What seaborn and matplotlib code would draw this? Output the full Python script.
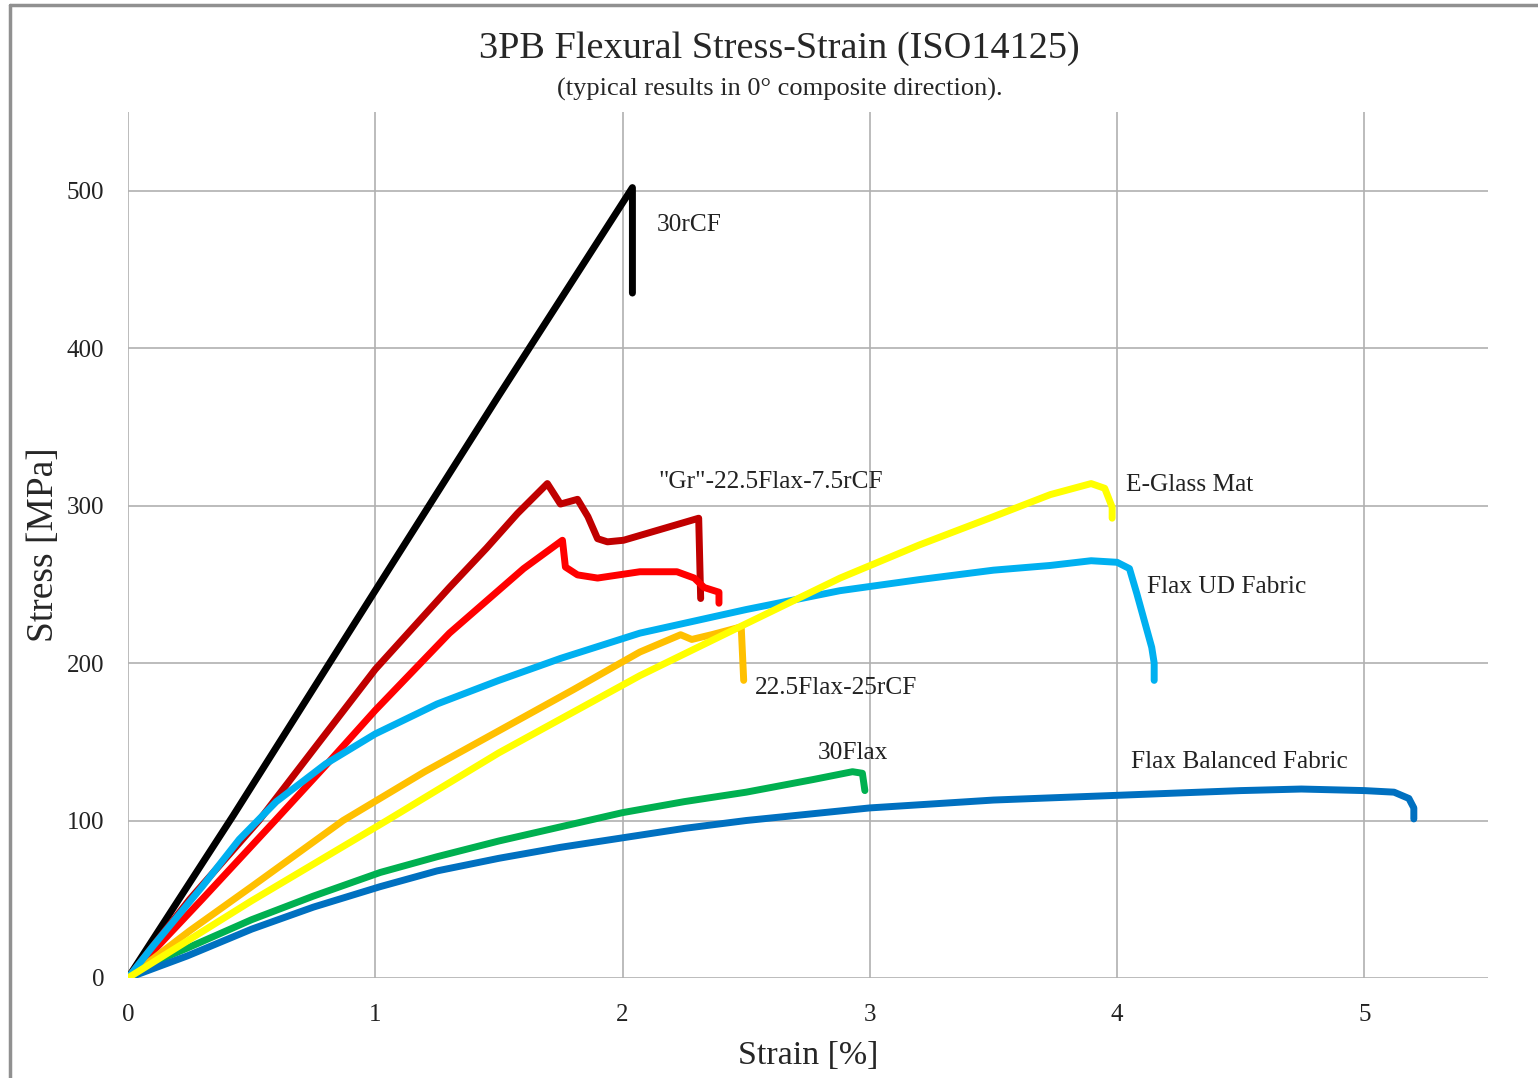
import matplotlib
matplotlib.use("Agg")
import matplotlib.pyplot as plt
from matplotlib.lines import Line2D
import seaborn as sns

# strain [%] / stress [MPa]
cf30_x = [0, 0.425, 1.0, 1.5, 2.04, 2.04]
cf30_y = [0, 103, 246, 370, 502, 435]

gr_x = [0, 0.25, 0.53, 0.75, 1.0, 1.3, 1.45, 1.575, 1.696, 1.749, 1.818, 1.86, 1.899, 1.939, 2.004, 2.308, 2.316]
gr_y = [0, 50, 100, 145, 196, 248, 273, 295, 314, 301, 304, 293, 279, 277, 278, 292, 241]

red_x = [0, 0.3, 0.595, 0.8, 1.0, 1.3, 1.6, 1.757, 1.769, 1.818, 1.899, 2.07, 2.22, 2.29, 2.33, 2.39, 2.39]
red_y = [0, 50, 100, 135, 170, 219, 260, 278, 261, 256, 254, 258, 258, 254, 248, 245, 238]

flax25_x = [0, 0.25, 0.5, 0.87, 1.2, 1.5, 1.8, 2.07, 2.235, 2.28, 2.36, 2.48, 2.49]
flax25_y = [0, 30, 58, 100, 131, 157, 183, 207, 218, 215, 218, 223, 189]

glass_x = [0, 0.5, 1.047, 1.5, 2.07, 2.5, 2.88, 3.2, 3.5, 3.73, 3.895, 3.95, 3.98, 3.98]
glass_y = [0, 49, 100, 143, 192, 225, 254, 275, 293, 307, 314, 311, 299, 292]

ud_x = [0, 0.1, 0.3, 0.45, 0.6, 0.8, 1.0, 1.25, 1.5, 1.75, 2.07, 2.5, 2.88, 3.2, 3.5, 3.73, 3.895, 4.0, 4.05, 4.08, 4.11, 4.14, 4.15, 4.15]
ud_y = [0, 20, 58, 88, 112, 136, 155, 174, 189, 203, 219, 234, 246, 253, 259, 262, 265, 264, 260, 244, 227, 210, 200, 189]

flax30_x = [0, 0.12, 0.24, 0.5, 0.75, 1.02, 1.25, 1.5, 1.75, 2.0, 2.25, 2.5, 2.77, 2.93, 2.97, 2.98]
flax30_y = [0, 11, 19, 37, 52, 67, 77, 87, 96, 105, 112, 118, 126, 131, 130, 119]

bal_x = [0, 0.24, 0.5, 0.75, 1.02, 1.25, 1.5, 1.75, 2.0, 2.25, 2.5, 3.0, 3.5, 4.0, 4.5, 4.745, 5.0, 5.12, 5.18, 5.2, 5.2]
bal_y = [0, 14, 31, 45, 58, 68, 76, 83, 89, 95, 100, 108, 113, 116, 119, 120, 119, 118, 114, 108, 101]

colors = ["#000000", "#C00000", "#FF0000", "#FFC000", "#00B050", "#0070C0", "#00B0F0", "#FFFF00"]
curves = [(cf30_x, cf30_y), (gr_x, gr_y), (red_x, red_y), (flax25_x, flax25_y),
          (flax30_x, flax30_y), (bal_x, bal_y), (ud_x, ud_y), (glass_x, glass_y)]

# label text and where it sits (data coords)
labels = [("30rCF", 2.14, 478), ('"Gr"-22.5Flax-7.5rCF', 2.146, 315),
          ("E-Glass Mat", 4.036, 313), ("Flax UD Fabric", 4.12, 248),
          ("22.5Flax-25rCF", 2.534, 184), ("30Flax", 2.79, 143),
          ("Flax Balanced Fabric", 4.057, 137)]

sns.set_theme(style="white")
plt.rcParams['font.family'] = ['Liberation Serif', 'DejaVu Serif']

fig = plt.figure(figsize=(15.38, 10.78), dpi=100)
ax = fig.add_axes([0.0832, 0.0928, 0.8843, 0.8033])

for (cx, cy), col in zip(curves, colors):
    sns.lineplot(x=cx, y=cy, ax=ax, color=col, sort=False, estimator=None,
                 linewidth=5, solid_capstyle='round', solid_joinstyle='round')

for txt, lx, ly in labels:
    ax.text(lx, ly, txt, fontsize=18.3, va='center', ha='left', color='#222222')

ax.set_xlim(0, 5.5)
ax.set_ylim(0, 550)
ax.set_xticks([0, 1, 2, 3, 4, 5])
ax.set_yticks([0, 100, 200, 300, 400, 500])
ax.grid(True, color='#b0b0b0', linewidth=1.2)
ax.set_axisbelow(True)
for s in ax.spines.values():
    s.set_visible(False)
ax.tick_params(axis='both', length=0, labelsize=18, colors='#222222')
ax.tick_params(axis='x', pad=19)
ax.tick_params(axis='y', pad=17)
ax.set_xlabel("Strain [%]", fontsize=24.5, labelpad=10)
ax.set_ylabel("Stress [MPa]", fontsize=27, labelpad=4)

fig.text(0.507, 0.955, "3PB Flexural Stress-Strain (ISO14125)", ha='center', va='center', fontsize=27.5)
fig.text(0.507, 0.917, "(typical results in 0° composite direction).", ha='center', va='center', fontsize=19)

# thin grey page frame
fig.add_artist(Line2D([0.0065, 1.0], [0.9954, 0.9954], color='#909090', linewidth=2.5))
fig.add_artist(Line2D([0.0065, 0.0065], [0.0, 0.9954], color='#909090', linewidth=2.5))

fig.savefig("out.png", dpi=100)
